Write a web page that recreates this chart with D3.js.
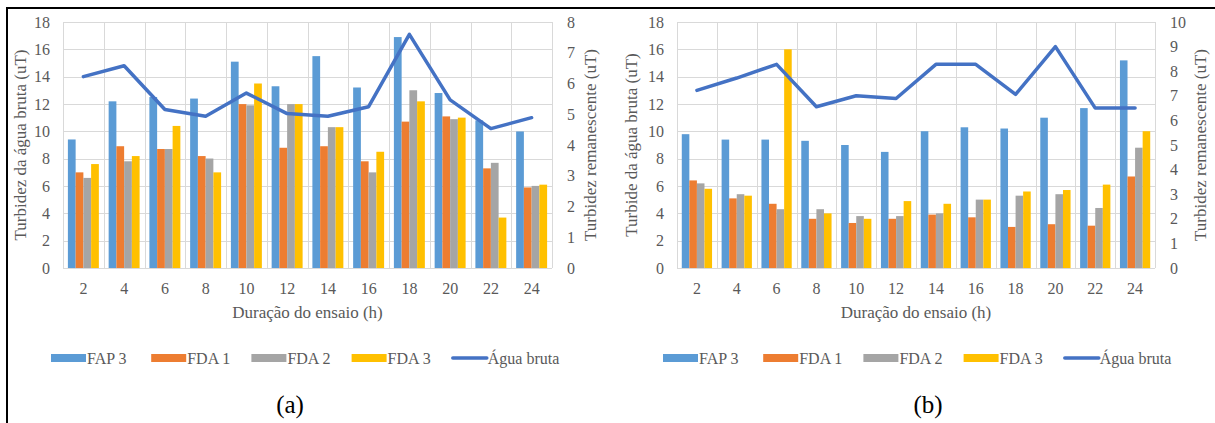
<!DOCTYPE html>
<html>
<head>
<meta charset="utf-8">
<script src="https://cdn.jsdelivr.net/npm/d3@7"></script>
<style>
  html, body { margin: 0; padding: 0; background: #fff; }
  svg text { font-family: "Liberation Serif", "Times New Roman", Times, "DejaVu Serif", serif; fill: #595959; }
</style>
</head>
<body>
<svg id="chart" width="1215" height="423" font-family="Liberation Serif, Times New Roman, serif"></svg>
<script>
// categories
const hours = [2, 4, 6, 8, 10, 12, 14, 16, 18, 20, 22, 24];
const seriesNames = ["FAP 3", "FDA 1", "FDA 2", "FDA 3"];
const lineName = "Água bruta";

// panel (a) – bars on the right axis (turbidez remanescente), line on the left axis
const fap3A = [4.18, 5.42, 5.56, 5.51, 6.71, 5.91, 6.89, 5.87, 7.51, 5.69, 4.80, 4.44];
const fda1A = [3.11, 3.96, 3.87, 3.64, 5.33, 3.91, 3.96, 3.47, 4.76, 4.93, 3.24, 2.62];
const fda2A = [2.93, 3.47, 3.87, 3.56, 5.29, 5.33, 4.58, 3.11, 5.78, 4.84, 3.42, 2.67];
const fda3A = [3.38, 3.64, 4.62, 3.11, 6.00, 5.33, 4.58, 3.78, 5.42, 4.89, 1.64, 2.71];
const aguaA = [14.0, 14.8, 11.6, 11.1, 12.8, 11.3, 11.1, 11.8, 17.1, 12.3, 10.2, 11.0];

// panel (b)
const fap3B = [5.44, 5.22, 5.22, 5.17, 5.00, 4.72, 5.56, 5.72, 5.67, 6.11, 6.50, 8.44];
const fda1B = [3.56, 2.83, 2.61, 2.00, 1.83, 2.00, 2.17, 2.06, 1.67, 1.78, 1.72, 3.72];
const fda2B = [3.44, 3.00, 2.39, 2.39, 2.11, 2.11, 2.22, 2.78, 2.94, 3.00, 2.44, 4.89];
const fda3B = [3.22, 2.94, 8.89, 2.22, 2.00, 2.72, 2.61, 2.78, 3.11, 3.17, 3.39, 5.56];
const aguaB = [13.0, 13.9, 14.9, 11.8, 12.6, 12.4, 14.9, 14.9, 12.7, 16.2, 11.7, 11.7];

// axis ticks
const leftTicks = [0, 2, 4, 6, 8, 10, 12, 14, 16, 18];
const rightTicksA = [0, 1, 2, 3, 4, 5, 6, 7, 8];
const rightTicksB = [0, 1, 2, 3, 4, 5, 6, 7, 8, 9, 10];

const colors = ["#5B9BD5", "#ED7D31", "#A5A5A5", "#FFC000"];
const lineColor = "#4472C4";

const svg = d3.select("#chart");

// outer frame (top and left only)
svg.append("line").attr("x1", 6).attr("x2", 1215).attr("y1", 8).attr("y2", 8)
  .attr("stroke", "#000").attr("stroke-width", 2);
svg.append("line").attr("x1", 7).attr("x2", 7).attr("y1", 7).attr("y2", 423)
  .attr("stroke", "#000").attr("stroke-width", 2);

function drawPanel(cfg) {
  const g = svg.append("g");
  const top = 22, bottom = 268;

  const x0 = d3.scaleBand().domain(hours).range([cfg.left, cfg.right])
    .paddingInner(0.24).paddingOuter(0.12);
  const x1 = d3.scaleBand().domain(seriesNames).range([0, x0.bandwidth()]);
  const yL = d3.scaleLinear().domain([0, 18]).range([bottom, top]);
  const yR = d3.scaleLinear().domain([0, cfg.rightMax]).range([bottom, top]);

  // grid
  const step = x0.step();
  const grid = g.append("g").attr("stroke", "#d9d9d9").attr("stroke-width", 1);
  grid.selectAll("line.h").data(leftTicks).join("line")
    .attr("x1", cfg.left).attr("x2", cfg.right)
    .attr("y1", d => Math.round(yL(d)) + 0.5).attr("y2", d => Math.round(yL(d)) + 0.5);
  grid.selectAll("line.v").data(d3.range(hours.length + 1)).join("line")
    .attr("x1", i => Math.round(cfg.left + i * step) + 0.5)
    .attr("x2", i => Math.round(cfg.left + i * step) + 0.5)
    .attr("y1", top).attr("y2", bottom);

  // bars
  const rows = hours.map((h, i) => ({ h, vals: cfg.bars.map(s => s[i]) }));
  g.append("g").selectAll("g").data(rows).join("g")
    .attr("transform", d => `translate(${x0(d.h)},0)`)
    .selectAll("rect").data(d => d.vals.map((v, k) => ({ k, v }))).join("rect")
    .attr("x", d => x1(seriesNames[d.k]))
    .attr("width", x1.bandwidth())
    .attr("y", d => yR(d.v))
    .attr("height", d => bottom - yR(d.v))
    .attr("fill", d => colors[d.k]);

  // line
  const line = d3.line().x((d, i) => x0(hours[i]) + x0.bandwidth() / 2).y(d => yL(d));
  g.append("path").datum(cfg.line).attr("d", line)
    .attr("fill", "none").attr("stroke", lineColor).attr("stroke-width", 3.5)
    .attr("stroke-linejoin", "round").attr("stroke-linecap", "round");

  // left axis labels
  g.append("g").selectAll("text").data(leftTicks).join("text")
    .attr("x", cfg.left - 13).attr("y", d => yL(d)).attr("dy", "0.35em")
    .attr("text-anchor", "end").attr("font-size", 16).text(d => d);
  // right axis labels
  g.append("g").selectAll("text").data(cfg.rightTicks).join("text")
    .attr("x", cfg.right + 15).attr("y", d => yR(d)).attr("dy", "0.35em")
    .attr("text-anchor", "start").attr("font-size", 16).text(d => d);
  // x labels
  g.append("g").selectAll("text").data(hours).join("text")
    .attr("x", d => x0(d) + x0.bandwidth() / 2).attr("y", 294)
    .attr("text-anchor", "middle").attr("font-size", 16).text(d => d);

  // axis titles
  const midX = (cfg.left + cfg.right) / 2;
  g.append("text").attr("x", midX).attr("y", 318).attr("text-anchor", "middle")
    .attr("font-size", 17).text("Duração do ensaio (h)");
  g.append("text").attr("transform", `translate(${cfg.leftTitleX},145) rotate(-90)`)
    .attr("text-anchor", "middle").attr("dy", "0.35em").attr("font-size", 17).text(cfg.leftTitle);
  g.append("text").attr("transform", `translate(${cfg.rightTitleX},145) rotate(-90)`)
    .attr("text-anchor", "middle").attr("dy", "0.35em").attr("font-size", 17).text("Turbidez remanescente (uT)");

  // legend
  const items = seriesNames.concat([lineName]);
  const leg = g.append("g").selectAll("g").data(items).join("g")
    .attr("transform", (d, i) => `translate(${cfg.legendX + i * 100.2},358)`);
  leg.each(function (d, i) {
    const el = d3.select(this);
    if (i < 4) {
      el.append("rect").attr("x", 0).attr("y", -4).attr("width", 35).attr("height", 8).attr("fill", colors[i]);
    } else {
      el.append("line").attr("x1", 1).attr("x2", 35).attr("y1", 0).attr("y2", 0)
        .attr("stroke", lineColor).attr("stroke-width", 3.5).attr("stroke-linecap", "round");
    }
    el.append("text").attr("x", 36).attr("y", 0).attr("dy", "0.35em").attr("font-size", 16).text(d);
  });

  // panel letter
  g.append("text").attr("x", cfg.letterX).attr("y", 413).attr("text-anchor", "middle")
    .attr("font-size", 25).style("fill", "#000").text(cfg.letter);
}

drawPanel({
  left: 63, right: 552, rightMax: 8, rightTicks: rightTicksA,
  bars: [fap3A, fda1A, fda2A, fda3A], line: aguaA,
  leftTitle: "Turbidez da água bruta (uT)", leftTitleX: 20, rightTitleX: 590,
  legendX: 51, letter: "(a)", letterX: 290
});

drawPanel({
  left: 677, right: 1155, rightMax: 10, rightTicks: rightTicksB,
  bars: [fap3B, fda1B, fda2B, fda3B], line: aguaB,
  leftTitle: "Turbide da água bruta (uT)", leftTitleX: 631, rightTitleX: 1200,
  legendX: 663, letter: "(b)", letterX: 928
});
</script>
</body>
</html>
